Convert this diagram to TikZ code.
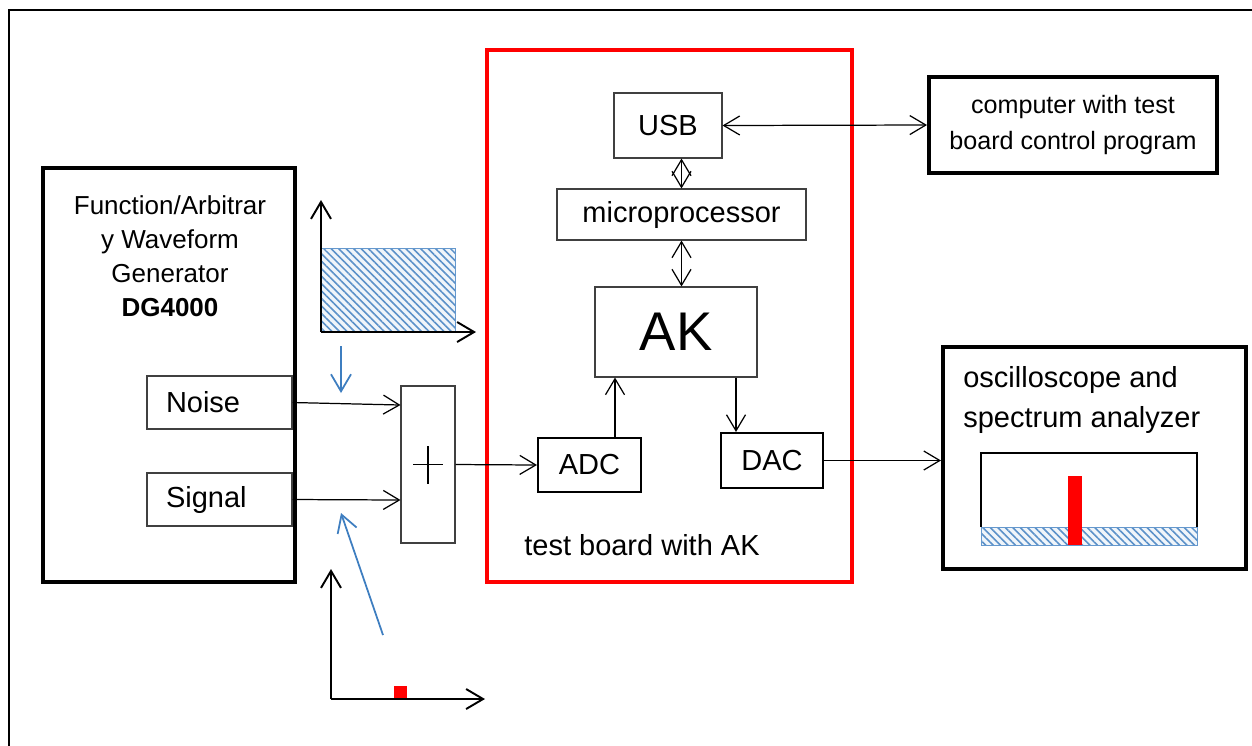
\documentclass[tikz,border=0pt]{standalone}
\usepackage{fontspec}
\setmainfont{Liberation Sans}
\usetikzlibrary{positioning, arrows.meta, patterns.meta}

\definecolor{hintblue}{RGB}{62,126,192}
\definecolor{edgegray}{RGB}{64,64,64}

\begin{document}
\begin{tikzpicture}[
        x=0.2mm, y=0.2mm,
        font=\fontsize{16.5}{19.5}\selectfont,
        >={Straight Barb[length=3.2mm, width=3.8mm]},
        heavybox/.style={draw, line width=2.3pt, inner sep=0},
        thinbox/.style={draw=edgegray, line width=0.6pt, inner sep=0},
        convbox/.style={draw, line width=1.2pt, inner sep=0, minimum height=10.8mm, minimum width=20.6mm},
        port/.style={draw=edgegray, line width=0.6pt, minimum height=10.6mm, text width=21.4mm, inner xsep=3.8mm, align=left},
        arrow/.style={->, line width=0.7pt},
        dblarrow/.style={<->, line width=0.7pt},
        axis/.style={->, line width=1.1pt, >={Straight Barb[length=3.4mm, width=4mm]}},
        hint/.style={->, draw=hintblue, line width=1pt, >={Straight Barb[length=3.4mm, width=4mm]}},
        noisefill/.style={draw=hintblue!80, line width=0.4pt, preaction={fill=hintblue!8},
            pattern={Lines[angle=-45, distance=3pt, line width=0.9pt]}, pattern color=hintblue!85}
    ]
    \useasboundingbox (0,0) rectangle (1252,-745);
    \clip (0,0) rectangle (1252,-745);
    \draw[line width=1.4pt] (9,-10) rectangle (1270,-770);

    % Nodes
    \node[heavybox, minimum width=50.4mm, minimum height=82.8mm] (gen) at (169,-375) {};
    \node[align=center, font=\fontsize{14.8}{19.3}\selectfont] (gentitle) at (170,-256) {Function/Arbitrar\\y Waveform\\Generator\\\textbf{DG4000}};
    \node[port] (noise) at (219.5,-402.5) {Noise};
    \node[port] (signal) at (219.5,-499.5) {Signal};
    \node[thinbox, minimum width=10.8mm, minimum height=31.4mm] (sum) at (428,-464.5) {};
    \draw[line width=0.8pt] ([xshift=-3mm]sum.center) -- ([xshift=3mm]sum.center)
        ([yshift=-3.8mm]sum.center) -- ([yshift=3.8mm]sum.center);

    \node[draw=red, line width=2.8pt, minimum width=73mm, minimum height=106.4mm] (board) at (669.5,-316) {};
    \node (boardlabel) at (642,-545) {test board with AK};
    \node[thinbox, minimum width=21.6mm, minimum height=13mm] (usb) at (668,-125.5) {USB};
    \node[thinbox, minimum width=49.8mm, minimum height=10.2mm] (mcu) at (681.5,-214.5) {microprocessor};
    \node[thinbox, minimum width=32.4mm, minimum height=18mm, font=\fontsize{31}{36}\selectfont] (ak) at (676,-332) {AK};
    \node[convbox] (adc) at (589.5,-465) {ADC};
    \node[convbox, minimum width=20.4mm, minimum height=11mm] (dac) at (772,-460.5) {DAC};

    \node[heavybox, minimum width=57.6mm, minimum height=19.2mm, align=center,
        font=\fontsize{14.3}{20.5}\selectfont] (pc) at (1073,-125) {computer with test\\board control program};
    \node[heavybox, minimum width=60.6mm, minimum height=44.4mm] (osc) at (1094.5,-458) {};
    \node[anchor=west, align=left, inner sep=0, font=\fontsize{16.5}{22.7}\selectfont] (osctitle) at (963,-400) {oscilloscope and\\spectrum analyzer};

    % Spectra
    \draw[noisefill] (321,-248) rectangle (455,-332);
    \draw[axis] (321,-332) -- (321,-200);
    \draw[axis] (321,-332) -- (476,-332);
    \fill[red] (394,-686) rectangle (407,-699);
    \draw[axis] (331,-699) -- (331,-569);
    \draw[axis] (331,-699) -- (485,-699);
    \draw[noisefill] (981,-527) rectangle (1197,-545);
    \draw[line width=1.2pt] (981,-527) -- (981,-453) -- (1197,-453) -- (1197,-527);
    \fill[red] (1068,-476) rectangle (1082,-545);

    % Arrows
    \coordinate (nhint) at (341,-346);
    \coordinate (shint) at (383,-635);
    \draw[hint] (nhint) -- ++(0,-47);
    \draw[hint] (shint) -- ++(-42,122);
    \draw[dblarrow] (usb.east) -- (pc.west);
    \draw[dblarrow] (usb.south -| mcu.north) -- (mcu.north);
    \draw[dblarrow] (mcu.south) -- (mcu.south |- ak.north);
    \draw[arrow] (noise.east) -- ([yshift=11.9mm]sum.west);
    \draw[arrow] (signal.east) -- ([yshift=-7.1mm]sum.west);
    \draw[arrow] (sum.east) -- (adc.west);
    \draw[arrow] ([xshift=5.1mm]adc.north) -- ([xshift=5.1mm]adc.north |- ak.south);
    \draw[arrow] ([xshift=-7.2mm]dac.north |- ak.south) -- ([xshift=-7.2mm]dac.north);
    \draw[arrow] (dac.east) -- (dac.east -| osc.west);
\end{tikzpicture}
\end{document}
